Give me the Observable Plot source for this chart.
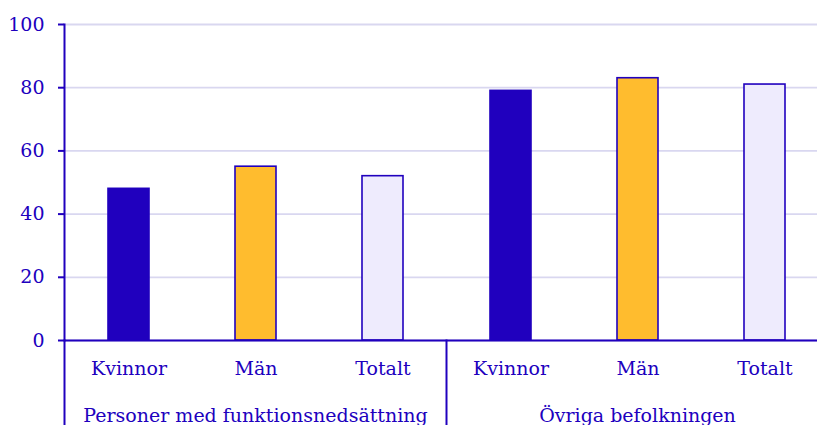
<!DOCTYPE html>
<html><head><meta charset="utf-8">
<script src="https://cdn.jsdelivr.net/npm/d3@7"></script>
<script src="https://cdn.jsdelivr.net/npm/@observablehq/plot@0.6"></script>
<style>html,body{margin:0;padding:0;overflow:hidden;background:#fff} svg{max-width:none !important;}</style>
</head><body><div id="chart"></div>
<script>
const groups = ["Personer med funktionsnedsättning", "Övriga befolkningen"];
const categories = ["Kvinnor", "Män", "Totalt"];
const valuesFunk = [48, 55, 52];
const valuesOvriga = [79, 83, 81];
const yTicks = [0, 20, 40, 60, 80, 100];
const colors = ["#2000BE", "#FFBC2E", "#EEEBFD"];
const ink = "#2000BE";

const rows = [valuesFunk, valuesOvriga].flatMap((vals, g) =>
  categories.map((c, i) => ({group: groups[g], cat: c, value: vals[i]})));

const marginTop = 24, marginBottom = 100, height = 440;
const plotH = height - marginTop - marginBottom;

const chart = Plot.plot({
  width: 828, height, marginLeft: 64, marginRight: 0, marginTop, marginBottom,
  style: {fontFamily: "DejaVu Serif", fontSize: "19px", color: ink, background: "white", overflow: "visible", maxWidth: "none"},
  fx: {domain: groups, padding: 0, label: null},
  x: {domain: categories, paddingInner: 0.68, paddingOuter: 0.34, label: null},
  y: {domain: [0, 100], ticks: yTicks, label: null},
  color: {domain: categories, range: colors},
  marks: [
    Plot.gridY(yTicks, {stroke: "#D9D7F0", strokeOpacity: 1, strokeWidth: 1.8}),
    Plot.barY(rows, {fx: "group", x: "cat", y: "value", fill: "cat", stroke: ink, strokeWidth: 1.6}),
    Plot.ruleY([0], {stroke: ink, strokeWidth: 2}),
    Plot.frame({anchor: "left", stroke: ink, strokeWidth: 2, insetTop: plotH, insetBottom: -marginBottom}),
    Plot.frame({anchor: "left", stroke: ink, strokeWidth: 2, facetAnchor: "left"}),
    Plot.axisY(yTicks, {tickSize: 6, tickPadding: 14, stroke: ink, fill: ink, strokeWidth: 2, label: null}),
    Plot.axisX({tickSize: 0, tickPadding: 21, fill: ink, label: null}),
    Plot.axisFx({anchor: "bottom", tickSize: 0, tickPadding: 68, fill: ink, label: null})
  ]
});
document.getElementById("chart").appendChild(chart);
</script>
</body></html>
